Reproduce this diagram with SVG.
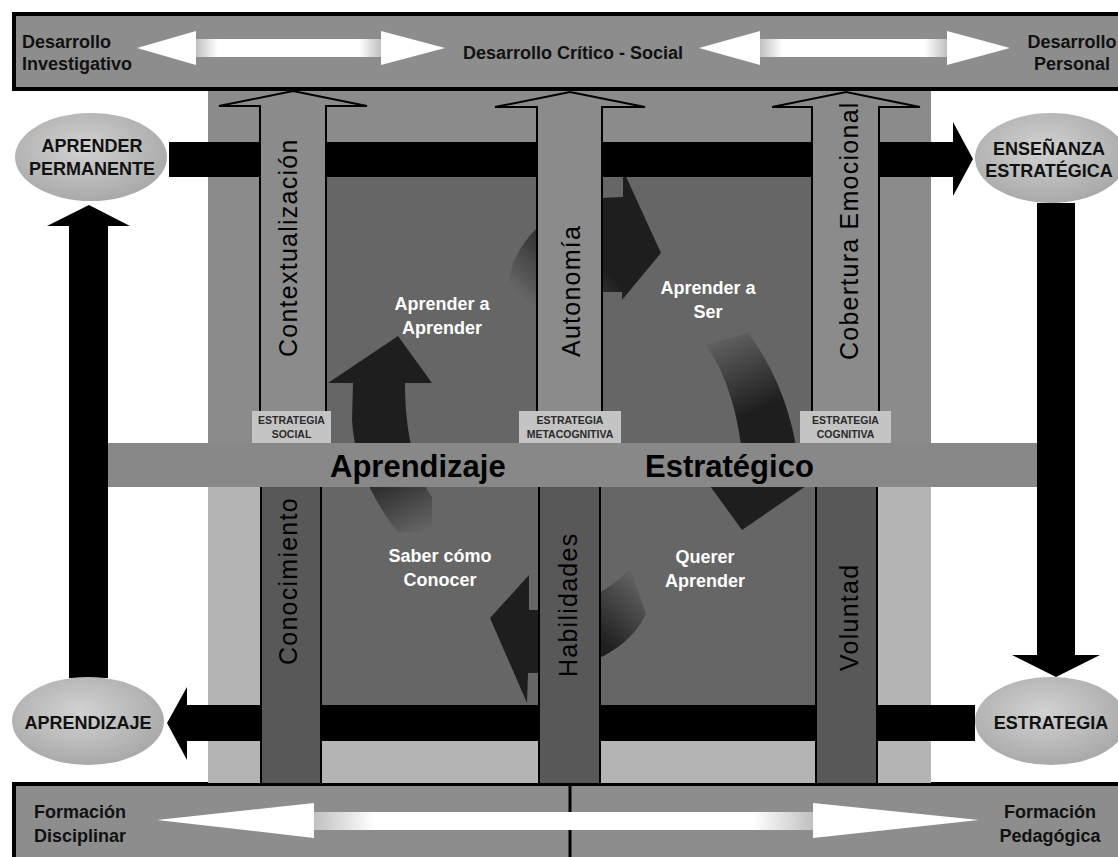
<svg xmlns="http://www.w3.org/2000/svg" width="1118" height="857" viewBox="0 0 1118 857">
<style>
text{font-family:"Liberation Sans",Arial,sans-serif}
.bt{font-size:18px;font-weight:bold;fill:#111}
.wt{font-size:18px;font-weight:bold;fill:#fff;text-anchor:middle}
.et{font-size:18px;font-weight:bold;fill:#111;text-anchor:middle}
.vt{font-size:25px;fill:#000;letter-spacing:1.25px}
.big{font-size:31px;font-weight:bold;fill:#000}
.sl{font-size:10.5px;font-weight:bold;fill:#2a2a2a;text-anchor:middle}
.bar{fill:#8d8d8d;stroke:#000;stroke-width:4}
.up{fill:#8b8b8b;stroke:#000;stroke-width:2}
.low{fill:#585858;stroke:#000;stroke-width:2}
.blk{fill:#000}
.wh{fill:#fff}
.lab{fill:#c4c4c4}
.ell{fill:url(#eg)}
</style>
<defs>
<radialGradient id="eg" cx="0.45" cy="0.4" r="0.65">
<stop offset="0" stop-color="#d2d2d2"/><stop offset="1" stop-color="#a6a6a6"/>
</radialGradient>
<linearGradient id="shaft" x1="0" y1="0" x2="1" y2="0">
<stop offset="0" stop-color="#c0c0c0"/><stop offset="0.12" stop-color="#fff"/><stop offset="0.88" stop-color="#fff"/><stop offset="1" stop-color="#c0c0c0"/>
</linearGradient>
<linearGradient id="ga" gradientUnits="userSpaceOnUse" x1="505" y1="280" x2="560" y2="225">
<stop offset="0" stop-color="#1e1e1e" stop-opacity="0"/><stop offset="1" stop-color="#1e1e1e"/>
</linearGradient>
<linearGradient id="gb" gradientUnits="userSpaceOnUse" x1="712" y1="335" x2="748" y2="415">
<stop offset="0" stop-color="#1e1e1e" stop-opacity="0"/><stop offset="1" stop-color="#1e1e1e"/>
</linearGradient>
<linearGradient id="gc" gradientUnits="userSpaceOnUse" x1="650" y1="585" x2="598" y2="640">
<stop offset="0" stop-color="#1e1e1e" stop-opacity="0"/><stop offset="1" stop-color="#1e1e1e"/>
</linearGradient>
<linearGradient id="gd" gradientUnits="userSpaceOnUse" x1="418" y1="535" x2="385" y2="465">
<stop offset="0" stop-color="#1e1e1e" stop-opacity="0"/><stop offset="1" stop-color="#1e1e1e"/>
</linearGradient>
</defs>

<rect width="1118" height="857" fill="#fff"/>

<g id="top-bar">
<rect class="bar" x="14" y="14" width="1120" height="75"/>
<text class="bt" x="22" y="48">Desarrollo</text>
<text class="bt" x="22" y="70">Investigativo</text>
<text class="bt" x="573" y="59" text-anchor="middle">Desarrollo Crítico - Social</text>
<text class="bt" x="1072" y="48" text-anchor="middle">Desarrollo</text>
<text class="bt" x="1072" y="70" text-anchor="middle">Personal</text>
</g>

<g id="bottom-bar">
<rect class="bar" x="14" y="784" width="1120" height="90"/>
<line x1="570" y1="784" x2="570" y2="857" stroke="#000" stroke-width="3"/>
</g>

<g id="frame">
<rect x="208" y="91" width="723" height="375" fill="#8b8b8b"/>
<rect x="208" y="465" width="723" height="318" fill="#b4b4b4"/>
<rect x="300" y="165" width="546" height="540" fill="#666"/>
</g>

<g id="connectors">
<path fill="url(#ga)" d="M508,285 C512,245 548,205 600,198 L623,197 L623,170 L661,253 L622,300 L622,292 L600,292 C575,292 552,296 533,306 Z"/>
<path fill="url(#gb)" d="M705,345 C722,365 736,405 741,445 L744,475 L702,475 L742,530 L822,475 L800,475 C796,430 782,378 748,333 Z"/>
<path fill="url(#gc)" d="M630,568 C612,590 582,604 540,610 L529,610 L529,575 L490,618 L527,703 L528,673 L540,673 C590,668 628,650 646,614 Z"/>
<path fill="url(#gd)" d="M328,383 L398,336 L432,383 L405,383 C405,425 412,468 432,497 L432,532 L398,532 C372,500 354,460 352,420 L353,383 Z"/>
<path class="blk" d="M169,142 H953 V122 L973,159 L953,196 V177 H169 Z"/>
<path class="blk" d="M975,705 H187 V687 L167,723 L187,760 V741 H975 Z"/>
<path class="blk" d="M69,678 V226 H47 L89,205 L130,226 H108 V678 Z"/>
<path class="blk" d="M1037,203 V655 H1012 L1056,677 L1100,655 H1075 V203 Z"/>
<polygon class="wh" points="137,48 196,31 196,65"/>
<rect x="196" y="39" width="185" height="18" fill="url(#shaft)"/>
<polygon class="wh" points="381,31 445,48 381,65"/>
<polygon class="wh" points="699,48 760,31 760,65"/>
<rect x="760" y="39" width="187" height="18" fill="url(#shaft)"/>
<polygon class="wh" points="947,31 1010,48 947,65"/>
<polygon class="wh" points="157,820 314,803 314,838"/>
<rect x="314" y="812" width="499" height="18" fill="url(#shaft)"/>
<polygon class="wh" points="813,803 979,820 813,838"/>
</g>

<g id="contextualizacion">
<path class="up" d="M260,445 V106 H219 L293,91 L367,106 H326 V445 Z"/>
<text class="vt" transform="translate(297,357) rotate(-90)">Contextualización</text>
</g>
<g id="autonomia">
<path class="up" d="M537,445 V107 H495 L570,92 L645,107 H602 V445 Z"/>
<text class="vt" transform="translate(580,357) rotate(-90)">Autonomía</text>
</g>
<g id="cobertura-emocional">
<path class="up" d="M812,445 V107 H772 L846,92 L920,107 H879 V445 Z"/>
<text class="vt" transform="translate(858,360) rotate(-90)">Cobertura Emocional</text>
</g>
<g id="conocimiento">
<rect class="low" x="261" y="486" width="60" height="298"/>
<text class="vt" transform="translate(297,665) rotate(-90)">Conocimiento</text>
</g>
<g id="habilidades">
<rect class="low" x="539" y="486" width="61" height="298"/>
<text class="vt" transform="translate(577,677) rotate(-90)">Habilidades</text>
</g>
<g id="voluntad">
<rect class="low" x="816" y="486" width="61" height="298"/>
<text class="vt" transform="translate(858,671) rotate(-90)">Voluntad</text>
</g>

<g id="aprendizaje-estrategico">
<rect x="108" y="443" width="929" height="44" fill="#888"/>
<text class="big" x="330" y="477">Aprendizaje</text>
<text class="big" x="645" y="477">Estratégico</text>
</g>

<g id="estrategia-social">
<rect class="lab" x="252" y="411" width="79" height="32"/>
<text class="sl" x="291.5" y="424">ESTRATEGIA</text>
<text class="sl" x="291.5" y="438">SOCIAL</text>
</g>
<g id="estrategia-metacognitiva">
<rect class="lab" x="519" y="411" width="102" height="32"/>
<text class="sl" x="570" y="424">ESTRATEGIA</text>
<text class="sl" x="570" y="438">METACOGNITIVA</text>
</g>
<g id="estrategia-cognitiva">
<rect class="lab" x="800" y="411" width="91" height="32"/>
<text class="sl" x="845.5" y="424">ESTRATEGIA</text>
<text class="sl" x="845.5" y="438">COGNITIVA</text>
</g>

<g id="aprender-permanente">
<ellipse class="ell" cx="91" cy="157" rx="76" ry="44"/>
<text class="et" x="92" y="152">APRENDER</text>
<text class="et" x="92" y="175">PERMANENTE</text>
</g>
<g id="ensenanza-estrategica">
<ellipse class="ell" cx="1051" cy="158" rx="76" ry="45"/>
<text class="et" x="1049" y="155">ENSEÑANZA</text>
<text class="et" x="1049" y="177">ESTRATÉGICA</text>
</g>
<g id="aprendizaje">
<ellipse class="ell" cx="88" cy="721" rx="76" ry="44"/>
<text class="et" x="88" y="729">APRENDIZAJE</text>
</g>
<g id="estrategia">
<ellipse class="ell" cx="1051" cy="721" rx="76" ry="44"/>
<text class="et" x="1051" y="729">ESTRATEGIA</text>
</g>

<g id="cycle-labels">
<text class="wt" x="442" y="310">Aprender a</text>
<text class="wt" x="442" y="334">Aprender</text>
<text class="wt" x="708" y="294">Aprender a</text>
<text class="wt" x="708" y="318">Ser</text>
<text class="wt" x="440" y="562">Saber cómo</text>
<text class="wt" x="440" y="586">Conocer</text>
<text class="wt" x="705" y="563">Querer</text>
<text class="wt" x="705" y="587">Aprender</text>
</g>

<g id="bottom-text">
<text class="bt" x="34" y="818">Formación</text>
<text class="bt" x="34" y="842">Disciplinar</text>
<text class="bt" x="1050" y="818" text-anchor="middle">Formación</text>
<text class="bt" x="1050" y="842" text-anchor="middle">Pedagógica</text>
</g>
</svg>
